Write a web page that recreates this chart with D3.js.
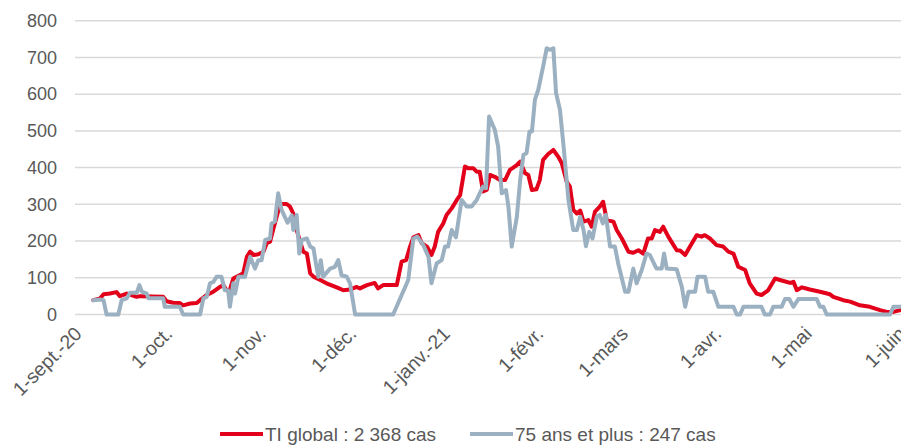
<!DOCTYPE html>
<html>
<head>
<meta charset="utf-8">
<script src="https://cdn.jsdelivr.net/npm/d3@7/dist/d3.min.js"></script>
<style>
  html, body { margin: 0; padding: 0; background: #fff; }
  svg { display: block; }
  text { font-family: "Liberation Sans", Arial, Helvetica, sans-serif; fill: #595959; }
</style>
</head>
<body>
<svg id="chart" width="901" height="445"></svg>
<script>
// ---- Data (days since 1 Sept 2020, values) ----
const redDays = [4.4, 6.7, 7.8, 9.9, 12.1, 13.2, 15.5, 18.8, 19.9, 27.6, 28.7, 30.9, 33.1, 34.2, 36.5, 38.7, 39.8, 42, 44.2, 46.4, 47.5, 48.6, 49.7, 50.8, 51.9, 54.1, 55.3, 56.4, 57.5, 59.1, 60.8, 61.9, 63, 64, 65.2, 66.3, 68.5, 69.6, 70.7, 71.8, 74, 75.2, 76.3, 77.4, 79.6, 81.7, 85.1, 87.3, 89.5, 91.7, 92.8, 95.1, 97.7, 98.8, 100.5, 103.8, 105, 106.6, 108.1, 109.4, 110.5, 112.2, 113.3, 115, 116.5, 117.6, 118.7, 120.4, 121.5, 123.2, 124.9, 126, 127.6, 128.7, 130.4, 131.5, 132.5, 133.6, 134.8, 135.9, 137.5, 139.2, 140.9, 142.5, 144.8, 145.9, 147.5, 148.6, 149.8, 151.3, 152.4, 153.5, 155.2, 156.9, 158.5, 159.7, 161.3, 162.4, 163.5, 164.7, 165.8, 166.9, 168.5, 169.6, 170.7, 172.3, 173.4, 174.6, 176.8, 177.9, 179.6, 181.8, 183.4, 185.1, 186.7, 188.3, 189.5, 190.6, 192.2, 193.3, 195, 197.8, 198.9, 200.6, 202.2, 204.4, 206, 207.1, 208.8, 211, 213.2, 214.9, 216.6, 218.2, 220.5, 222, 224.3, 225.9, 228.1, 230.4, 232, 235.4, 236.5, 237.6, 239.3, 241.9, 245.3, 248.6, 249.7, 253, 255.3, 258.5, 261.8, 265.2, 267.4, 269.6, 272];
const redValues = [39, 44, 55, 57, 61, 50, 57, 48, 50, 48, 36, 32, 31, 25, 30, 31, 39, 53, 62, 75, 80, 66, 68, 98, 103, 112, 157, 171, 162, 164, 171, 194, 198, 230, 266, 301, 301, 294, 275, 230, 171, 166, 112, 103, 94, 85, 74, 66, 68, 75, 71, 80, 86, 71, 80, 80, 80, 144, 148, 185, 210, 216, 194, 185, 162, 185, 225, 248, 271, 289, 312, 325, 403, 398, 398, 389, 389, 335, 339, 380, 375, 366, 366, 394, 407, 416, 385, 380, 339, 341, 366, 421, 437, 448, 430, 412, 362, 348, 285, 275, 283, 253, 257, 239, 280, 294, 307, 257, 253, 230, 207, 171, 168, 175, 166, 207, 207, 230, 225, 239, 212, 175, 174, 162, 185, 216, 212, 216, 207, 189, 185, 171, 166, 130, 121, 85, 57, 53, 66, 98, 94, 86, 89, 66, 74, 68, 62, 55, 48, 39, 35, 25, 21, 12, 7, 7, 12];

const greyDays = [4.4, 6.7, 7.8, 8.8, 12.7, 13.8, 15.5, 16.6, 18.8, 19.7, 20.5, 22.1, 22.7, 27.6, 28.1, 33.1, 34.2, 39.8, 40.9, 42, 43.1, 44.2, 45.3, 46.9, 48, 49.1, 49.7, 50.8, 51.4, 52.5, 54.7, 56.4, 58, 59.1, 60.2, 61.4, 63, 63.5, 64.6, 65.7, 66.8, 68.8, 70.2, 70.7, 71.8, 72.7, 73.5, 75.2, 76.3, 77.4, 78.2, 79, 79.8, 80.6, 82.9, 84.5, 85.6, 86.7, 88.4, 89.5, 91.2, 103.8, 108.8, 110.5, 111.8, 113.8, 115.5, 116.5, 118.2, 119.9, 121, 122, 123.2, 124.6, 126.5, 128.2, 129.8, 131.5, 132.5, 133.6, 134.6, 135.6, 137.5, 138.6, 139.8, 141.2, 142, 143.1, 144.8, 145.9, 147, 148, 149, 149.8, 150.8, 151.9, 153.5, 154.7, 155.8, 156.9, 157.8, 159.1, 160.2, 161.9, 163.5, 164.7, 165.8, 166.9, 167.7, 168.8, 169.9, 171.3, 172.3, 173.3, 174.3, 175.7, 177.3, 178.4, 180.7, 181.8, 183.4, 184.5, 186.2, 187.8, 188.9, 191.1, 192.8, 193.6, 194.5, 197.8, 199.5, 200.6, 201.7, 203.9, 204.7, 207.2, 208.2, 209.9, 211.6, 216.6, 217.7, 218.8, 219.9, 225.9, 227, 228.7, 229.8, 232.6, 233.7, 235.1, 236.5, 238.1, 244.2, 245.3, 246.4, 247.5, 268.5, 269.6, 272.2];
const greyValues = [39, 41, 39, 0, 0, 39, 44, 59, 59, 80, 62, 57, 44, 44, 21, 21, 0, 0, 44, 48, 85, 89, 103, 103, 66, 66, 21, 85, 57, 103, 103, 157, 125, 148, 148, 203, 207, 248, 253, 330, 285, 250, 270, 230, 271, 166, 203, 207, 185, 180, 139, 103, 148, 103, 125, 130, 148, 107, 103, 85, 0, 0, 94, 207, 212, 189, 157, 85, 139, 148, 185, 185, 230, 210, 312, 294, 294, 312, 330, 348, 344, 539, 503, 457, 330, 339, 294, 185, 266, 366, 435, 439, 498, 498, 585, 612, 675, 725, 721, 725, 603, 557, 466, 312, 230, 230, 266, 230, 186, 225, 207, 266, 271, 248, 271, 185, 185, 139, 62, 62, 125, 85, 121, 166, 162, 125, 125, 166, 125, 123, 75, 21, 62, 62, 103, 103, 62, 62, 21, 21, 0, 0, 21, 21, 0, 0, 21, 21, 42, 42, 21, 42, 42, 21, 21, 0, 0, 21, 21];

const yTicks = [0, 100, 200, 300, 400, 500, 600, 700, 800];
const monthLabels = ["1-sept.-20", "1-oct.", "1-nov.", "1-déc.", "1-janv.-21", "1-févr.", "1-mars", "1-avr.", "1-mai", "1-juin"];
const seriesNames = ["TI global : 2 368 cas", "75 ans et plus : 247 cas"];
const seriesColors = ["#E2001A", "#9BB0C1"];

// ---- Scales ----
const start = new Date(Date.UTC(2020, 8, 1));
const end = new Date(Date.UTC(2021, 5, 1));
const dayToDate = d => new Date(start.getTime() + d * 864e5);
const x = d3.scaleUtc().domain([start, end]).range([80, 903.6]);
const y = d3.scaleLinear().domain([0, 800]).range([314.5, 20.7]);

const svg = d3.select("#chart");

// gridlines
svg.append("g").selectAll("line").data(yTicks).join("line")
  .attr("x1", 75).attr("x2", 901)
  .attr("y1", d => y(d)).attr("y2", d => y(d))
  .attr("stroke", "#D9D9D9").attr("stroke-width", 1.5);

// y labels
svg.append("g").selectAll("text").data(yTicks).join("text")
  .attr("x", 57).attr("y", d => y(d)).attr("dy", "0.35em")
  .attr("text-anchor", "end").style("font-size", "18px")
  .text(d => d);

// x labels
const monthTicks = d3.utcMonth.range(start, d3.utcDay.offset(end, 1));
svg.append("g").selectAll("text").data(monthTicks).join("text")
  .attr("text-anchor", "end").style("font-size", "19.5px")
  .attr("transform", d => `translate(${x(d) + 3},335) rotate(-45)`)
  .text((d, i) => monthLabels[i]);

// lines
const line = d3.line().x(d => x(dayToDate(d[0]))).y(d => y(d[1])).curve(d3.curveLinear);
const redData = redDays.map((d, i) => [d, redValues[i]]);
const greyData = greyDays.map((d, i) => [d, greyValues[i]]);
[redData, greyData].forEach((data, i) => {
  svg.append("path").datum(data)
    .attr("d", line).attr("fill", "none")
    .attr("stroke", seriesColors[i]).attr("stroke-width", 4)
    .attr("stroke-linejoin", "round").attr("stroke-linecap", "round");
});

// legend
const legendX = [220, 470];
seriesNames.forEach((name, i) => {
  const g = svg.append("g");
  g.append("line").attr("x1", legendX[i]).attr("x2", legendX[i] + 43)
    .attr("y1", 434).attr("y2", 434)
    .attr("stroke", seriesColors[i]).attr("stroke-width", 4);
  g.append("text").attr("x", legendX[i] + 45).attr("y", 441)
    .style("font-size", "19px").text(name);
});
</script>
</body>
</html>
